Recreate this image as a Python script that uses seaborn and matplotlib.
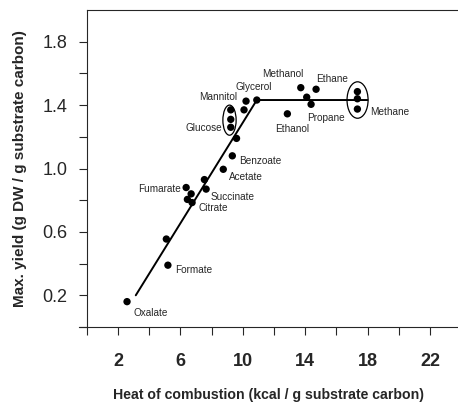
import numpy as np
import matplotlib
matplotlib.use("Agg")
import matplotlib.pyplot as plt
from matplotlib import font_manager as fm
from matplotlib.patches import Ellipse
import seaborn as sns

# substrates: heat of combustion vs. max. yield
heat = [2.58, 5.2, 5.1, 6.37, 6.69, 6.45, 6.75, 7.65, 7.54, 8.75, 9.33, 9.6,
        9.23, 9.23, 9.23, 10.08, 10.21, 10.9, 13.72, 14.7, 14.1, 14.38, 12.86,
        17.35, 17.35, 17.35]
yld = [0.16, 0.39, 0.555, 0.88, 0.84, 0.805, 0.785, 0.87, 0.93, 0.995, 1.08, 1.19,
       1.37, 1.31, 1.26, 1.37, 1.425, 1.432, 1.51, 1.50, 1.45, 1.405, 1.345,
       1.485, 1.44, 1.375]
names = ["Oxalate", "Formate", "", "Fumarate", "", "", "Citrate", "Succinate", "",
         "Acetate", "Benzoate", "", "Mannitol", "", "Glucose", "", "Glycerol", "",
         "Methanol", "Ethane", "", "Propane", "Ethanol", "", "", "Methane"]

# fitted lines (linear rise, then plateau)
fit_x = [3.14, 10.9, 18.0]
fit_y = [0.20, 1.432, 1.432]

x_ticklabels = ["", "2", "", "6", "", "10", "", "14", "", "18", "", "22"]
y_ticklabels = ["", "0.2", "", "0.6", "", "1.0", "", "1.4", "", "1.8"]

sns.set_style("ticks")
avail = {f.name for f in fm.fontManager.ttflist}
narrow = "Liberation Sans Narrow" if "Liberation Sans Narrow" in avail else "Liberation Sans"
plt.rcParams["font.family"] = [narrow, "DejaVu Sans"]

fig = plt.figure(figsize=(4.58, 4.03), dpi=100)
ax = fig.add_axes([79 / 458, 76 / 403, 379 / 458, 317 / 403])

sns.lineplot(x=fit_x, y=fit_y, color="black", linewidth=1.4, estimator=None,
             sort=False, ax=ax)
sns.scatterplot(x=heat, y=yld, color="black", s=28, edgecolor="none", ax=ax, zorder=3)

ax.add_patch(Ellipse((9.15, 1.305), 0.85, 0.19, fill=False, lw=0.9, color="black"))
ax.add_patch(Ellipse((17.36, 1.432), 1.35, 0.23, fill=False, lw=0.9, color="black"))

# label offsets in pixels (dx, dy, ha)
offsets = {
    "Oxalate": (6, -11, "left"), "Formate": (7, -5, "left"),
    "Fumarate": (-5, -1, "right"), "Succinate": (4, -8, "left"),
    "Citrate": (6, -5, "left"), "Acetate": (6, -8, "left"),
    "Benzoate": (7, -5, "left"), "Glucose": (-9, -1, "right"),
    "Mannitol": (6, 13, "right"), "Glycerol": (8, 14, "center"),
    "Methanol": (-18, 14, "center"), "Ethane": (16, 10, "center"),
    "Propane": (-4, -14, "left"), "Ethanol": (5, -15, "center"),
    "Methane": (13, -3, "left"),
}
for xv, yv, nm in zip(heat, yld, names):
    if not nm:
        continue
    dx, dy, ha = offsets[nm]
    ax.annotate(nm, (xv, yv), xytext=(dx, dy), textcoords="offset pixels",
                ha=ha, va="center", fontsize=7.2)

ax.set_xlim(-0.5, 23.8)
ax.set_ylim(0, 2.0)
ax.set_xticks(np.arange(0, 23, 2))
ax.set_xticklabels(x_ticklabels)
ax.set_yticks(np.arange(0, 1.9, 0.2))
ax.set_yticklabels(y_ticklabels)
ax.tick_params(axis="both", direction="out", length=6, width=0.8, labelsize=13)
ax.tick_params(axis="x", pad=13)
ax.tick_params(axis="y", pad=8)
for lab in ax.get_xticklabels() + ax.get_yticklabels():
    lab.set_fontweight("bold")

ax.spines["right"].set_visible(False)
ax.spines["left"].set_position(("data", 0))
ax.spines["top"].set_bounds(0, 23.8)
for sp in ax.spines.values():
    sp.set_linewidth(0.8)

ax.set_xlabel("Heat of combustion (kcal / g substrate carbon)", fontsize=10.2,
              fontweight="bold", labelpad=13)
ax.set_ylabel("Max. yield (g DW / g substrate carbon)", fontsize=11,
              fontweight="bold", labelpad=11)

fig.savefig("out.png", dpi=100)
